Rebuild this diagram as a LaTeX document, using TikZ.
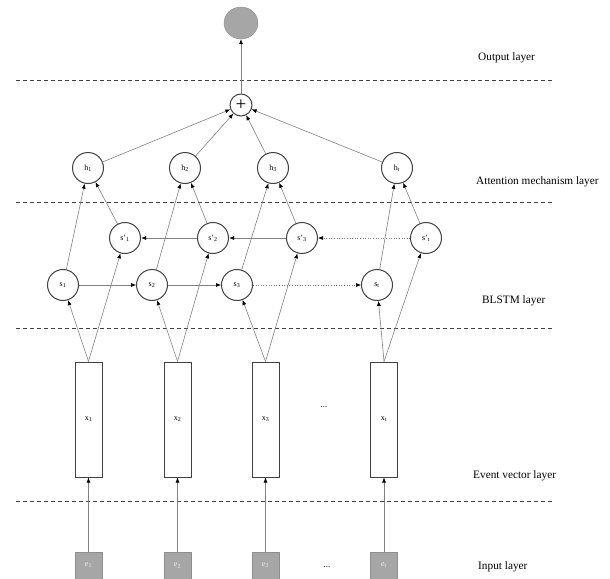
\documentclass[tikz,border=0pt]{standalone}
\usepackage{fontspec}
\setmainfont{Liberation Serif}
\usepackage{xcolor,tikz}
\usetikzlibrary{arrows.meta,shapes.geometric}
\definecolor{netLine}{HTML}{404040}
\definecolor{netArrow}{HTML}{808080}
\definecolor{netFill}{HTML}{A6A6A6}

\tikzset{
  unit/.style={circle, draw=netLine, line width=1pt, minimum size=31pt,
    inner sep=0pt, font=\fontsize{8}{9}\selectfont},
  vecbox/.style={rectangle, draw=netLine, line width=1pt, minimum width=27pt,
    minimum height=115pt, inner sep=0pt, font=\fontsize{8}{9}\selectfont},
  inbox/.style={rectangle, draw=netFill!85!black, fill=netFill, minimum size=27pt,
    inner sep=0pt, text=white!80!netFill, font=\fontsize{8}{9}\selectfont},
  conn/.style={draw=netArrow, line width=0.6pt,
    -{Latex[length=5pt, width=4pt, color=black]}},
  sepline/.style={draw=netLine, line width=0.9pt, dash pattern=on 4pt off 3pt},
  layerlab/.style={anchor=west, inner sep=0pt, font=\fontsize{11.3}{13}\selectfont}
}

\begin{document}
\begin{tikzpicture}[x=1pt, y=-1pt]

% --- PARAMETERS ---
\def\sepW{16}               % dashed line start
\def\sepE{553}              % dashed line end
\def\yIn{565.5}             % input row
\def\yVec{419.5}            % event vector row
\def\yFwd{285}              % forward state row
\def\yBwd{238}              % backward state row
\def\yAtt{168}              % attention row

\useasboundingbox (0,0) rectangle (610,578);

% --- LAYER SEPARATORS ---
\foreach \ly in {80, 202, 328, 501} {
  \draw[sepline] (\sepW, \ly) -- (\sepE, \ly);
}

% --- LAYER LABELS ---
\foreach \lx/\ly/\txt in {478/58/Output layer, 476/182/Attention mechanism layer,
    482/301/BLSTM layer, 473/476/Event vector layer, 478/567/Input layer} {
  \node[layerlab] (lab\ly) at (\lx, \ly) {\txt};
}

% --- OUTPUT + SUM ---
\node[ellipse, draw=netFill!85!black, fill=netFill, minimum width=34pt,
  minimum height=32pt, inner sep=0pt] (out) at (241, 23) {};
\node[circle, draw=netLine, line width=1pt, minimum size=22pt, inner sep=0pt,
  font=\fontsize{19}{19}\selectfont] (plus) at (241, 105) {+};
\draw[conn] (plus) -- (out);

% --- COLUMNS ---
\foreach \i/\hx/\bx/\fx/\vx in {1/88/125/63/88.5, 2/185/213/152/177.5,
    3/273/302/237/265.5, t/397/426/377/384} {
  \node[inbox]  (e\i)  at (\vx, \yIn)  {e\textsubscript{\i}};
  \node[vecbox] (x\i)  at (\vx, \yVec) {x\textsubscript{\i}};
  \node[unit]   (s\i)  at (\fx, \yFwd) {s\textsubscript{\i}};
  \node[unit]   (sb\i) at (\bx, \yBwd) {s'\textsubscript{\i}};
  \node[unit]   (h\i)  at (\hx, \yAtt) {h\textsubscript{\i}};
  % upward links
  \draw[conn] (e\i) -- (x\i);
  \draw[conn] (x\i.north) -- (s\i);
  \draw[conn] (x\i.north) -- (sb\i);
  \draw[conn] (s\i) -- (h\i);
  \draw[conn] (sb\i) -- (h\i);
  \draw[conn] (h\i) -- (plus);
}

% --- RECURRENT LINKS ---
\draw[conn] (s1) -- (s2);
\draw[conn] (s2) -- (s3);
\draw[conn, dotted] (s3) -- (st);
\draw[conn, line width=0.9pt] (sb2) -- (sb1);
\draw[conn, line width=0.9pt] (sb3) -- (sb2);
\draw[conn, dotted] (sbt) -- (sb3);

% --- ELLIPSES ---
\node[font=\fontsize{9}{10}\selectfont] (dotsx) at (324, 407) {...};
\node[font=\fontsize{9}{10}\selectfont] (dotse) at (327, 567) {...};

\end{tikzpicture}
\end{document}
